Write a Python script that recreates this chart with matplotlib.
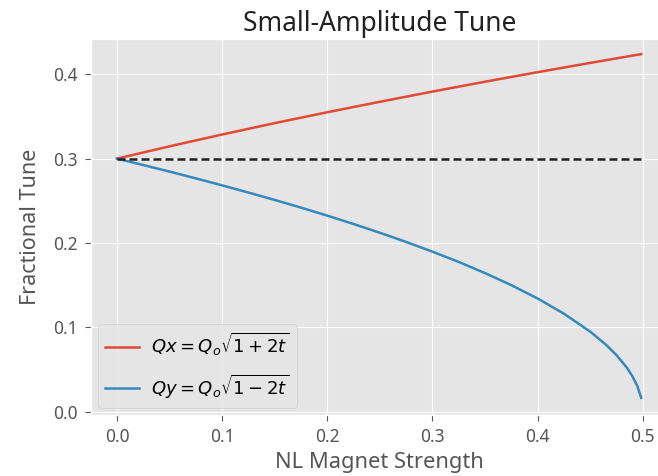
import matplotlib
matplotlib.use("Agg")
import matplotlib.pyplot as plt

plt.style.use("ggplot")
plt.rcParams["font.family"] = ["Noto Sans", "DejaVu Sans"]
plt.rcParams["mathtext.fontset"] = "dejavusans"

# Data
t_x = [0, 0.05, 0.1, 0.15, 0.2, 0.25, 0.3, 0.35, 0.4, 0.45, 0.4985]
qx = [0.300, 0.3146, 0.3286, 0.3421, 0.3550, 0.3674, 0.3795, 0.3912, 0.4025, 0.4135, 0.4239]

t_y = [0, 0.025, 0.05, 0.075, 0.1, 0.125, 0.15, 0.175, 0.2, 0.225, 0.25, 0.275,
       0.3, 0.325, 0.35, 0.375, 0.4, 0.425, 0.45, 0.465, 0.475, 0.485, 0.49, 0.495, 0.4985]
qy = [0.300, 0.2924, 0.2846, 0.2766, 0.2683, 0.2598, 0.2510, 0.2419, 0.2324, 0.2225,
      0.2121, 0.2012, 0.1897, 0.1775, 0.1643, 0.1500, 0.1342, 0.1162, 0.0949, 0.0794,
      0.0671, 0.0520, 0.0424, 0.0300, 0.0164]

t_ref = [0, 0.4985]
q_ref = [0.3, 0.3]

x_ticks = [0.0, 0.1, 0.2, 0.3, 0.4, 0.5]
y_ticks = [0.0, 0.1, 0.2, 0.3, 0.4]

fig = plt.figure(figsize=(6.58, 4.76), dpi=100)
ax = fig.add_axes([90.7 / 658, 1 - 415 / 476, 578.3 / 658, (415 - 39.3) / 476])

ax.plot(t_x, qx, color="#E24A33", lw=1.8, label=r"$Qx = Q_o\sqrt{1+2t}$")
ax.plot(t_y, qy, color="#348ABD", lw=1.8, label=r"$Qy = Q_o\sqrt{1-2t}$")
ax.plot(t_ref, q_ref, "--", color="#222222", lw=1.8, dashes=(3.2, 1.6))

ax.set_xlim(-0.025, 0.525)
ax.set_ylim(-0.004, 0.4415)
ax.set_xticks(x_ticks)
ax.set_yticks(y_ticks)
ax.tick_params(labelsize=12.5, colors="#555555", pad=5, length=4)
ax.set_xlabel("NL Magnet Strength", fontsize=15.8, color="#555555", labelpad=5)
ax.set_ylabel("Fractional Tune", fontsize=15.5, color="#555555", labelpad=9)
ax.set_title("Small-Amplitude Tune", fontsize=19, color="#222222", pad=6)
ax.legend(loc="lower left", fontsize=13, labelspacing=0.8, handlelength=1.9,
          handletextpad=0.65, borderaxespad=0.4)

fig.savefig("out.png", dpi=100)
